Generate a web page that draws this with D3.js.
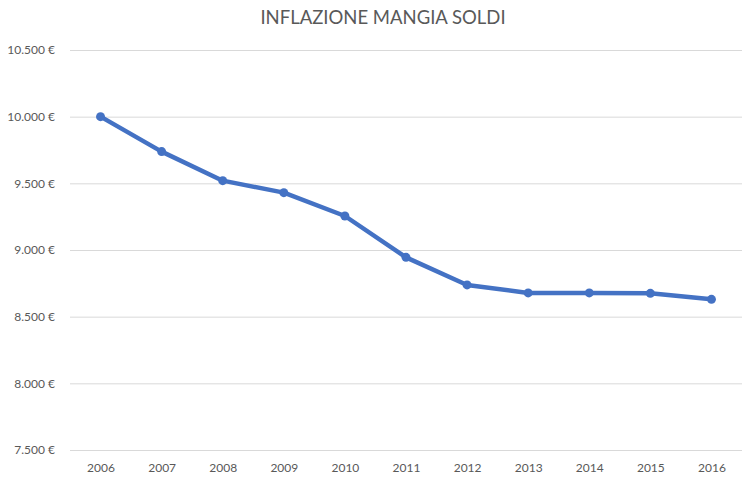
<!DOCTYPE html>
<html>
<head>
<meta charset="utf-8">
<script src="https://cdn.jsdelivr.net/npm/d3@7"></script>
<style>
  body { margin: 0; background: #fff; }
  text { font-family: Lato, "Open Sans", sans-serif; fill: #595959; }
</style>
</head>
<body>
<div id="chart"></div>
<script>
// data
var years = ["2006", "2007", "2008", "2009", "2010", "2011", "2012", "2013", "2014", "2015", "2016"];
var values = [10000, 9738, 9520, 9430, 9255, 8945, 8738, 8678, 8678, 8675, 8630];
var yTicks = [7500, 8000, 8500, 9000, 9500, 10000, 10500];

var width = 750, height = 485;
var mLeft = 70, mRight = 742, mTop = 50, mBottom = 450;

var svg = d3.select("#chart").append("svg")
    .attr("width", width)
    .attr("height", height);

var x = d3.scalePoint()
    .domain(years)
    .range([mLeft, mRight])
    .padding(0.5);

var y = d3.scaleLinear()
    .domain([7500, 10500])
    .range([mBottom, mTop]);

var fmt = d3.formatLocale({decimal: ",", thousands: ".", grouping: [3], currency: ["", " €"]}).format("$,.0f");

// gridlines + y labels
var yAxis = d3.axisLeft(y)
    .tickValues(yTicks)
    .tickSize(-(mRight - mLeft))
    .tickPadding(15)
    .tickFormat(fmt);

var gy = svg.append("g")
    .attr("transform", "translate(" + mLeft + ",0)")
    .call(yAxis);
gy.select(".domain").remove();
gy.selectAll(".tick line").attr("stroke", "#d9d9d9").attr("stroke-width", 1);
gy.selectAll(".tick text").attr("font-size", 12).style("fill", "#595959");

// x labels
var xAxis = d3.axisBottom(x).tickSize(0).tickPadding(13);
var gx = svg.append("g")
    .attr("transform", "translate(0," + mBottom + ")")
    .call(xAxis);
gx.select(".domain").remove();
gx.selectAll(".tick text").attr("font-size", 12).style("fill", "#595959");

// title
svg.append("text")
    .attr("x", 383)
    .attr("y", 24)
    .attr("text-anchor", "middle")
    .attr("font-size", 18.5)
    .text("INFLAZIONE MANGIA SOLDI");

var pts = years.map(function(d, i) { return {year: d, value: values[i]}; });

var line = d3.line()
    .x(function(d) { return x(d.year); })
    .y(function(d) { return y(d.value); });

svg.append("path")
    .datum(pts)
    .attr("d", line)
    .attr("fill", "none")
    .attr("stroke", "#4472c4")
    .attr("stroke-width", 4.5)
    .attr("stroke-linejoin", "round")
    .attr("stroke-linecap", "round");

svg.selectAll("circle.pt")
    .data(pts)
    .enter()
    .append("circle")
    .attr("class", "pt")
    .attr("cx", function(d) { return x(d.year); })
    .attr("cy", function(d) { return y(d.value); })
    .attr("r", 4.5)
    .attr("fill", "#4472c4");
</script>
</body>
</html>
